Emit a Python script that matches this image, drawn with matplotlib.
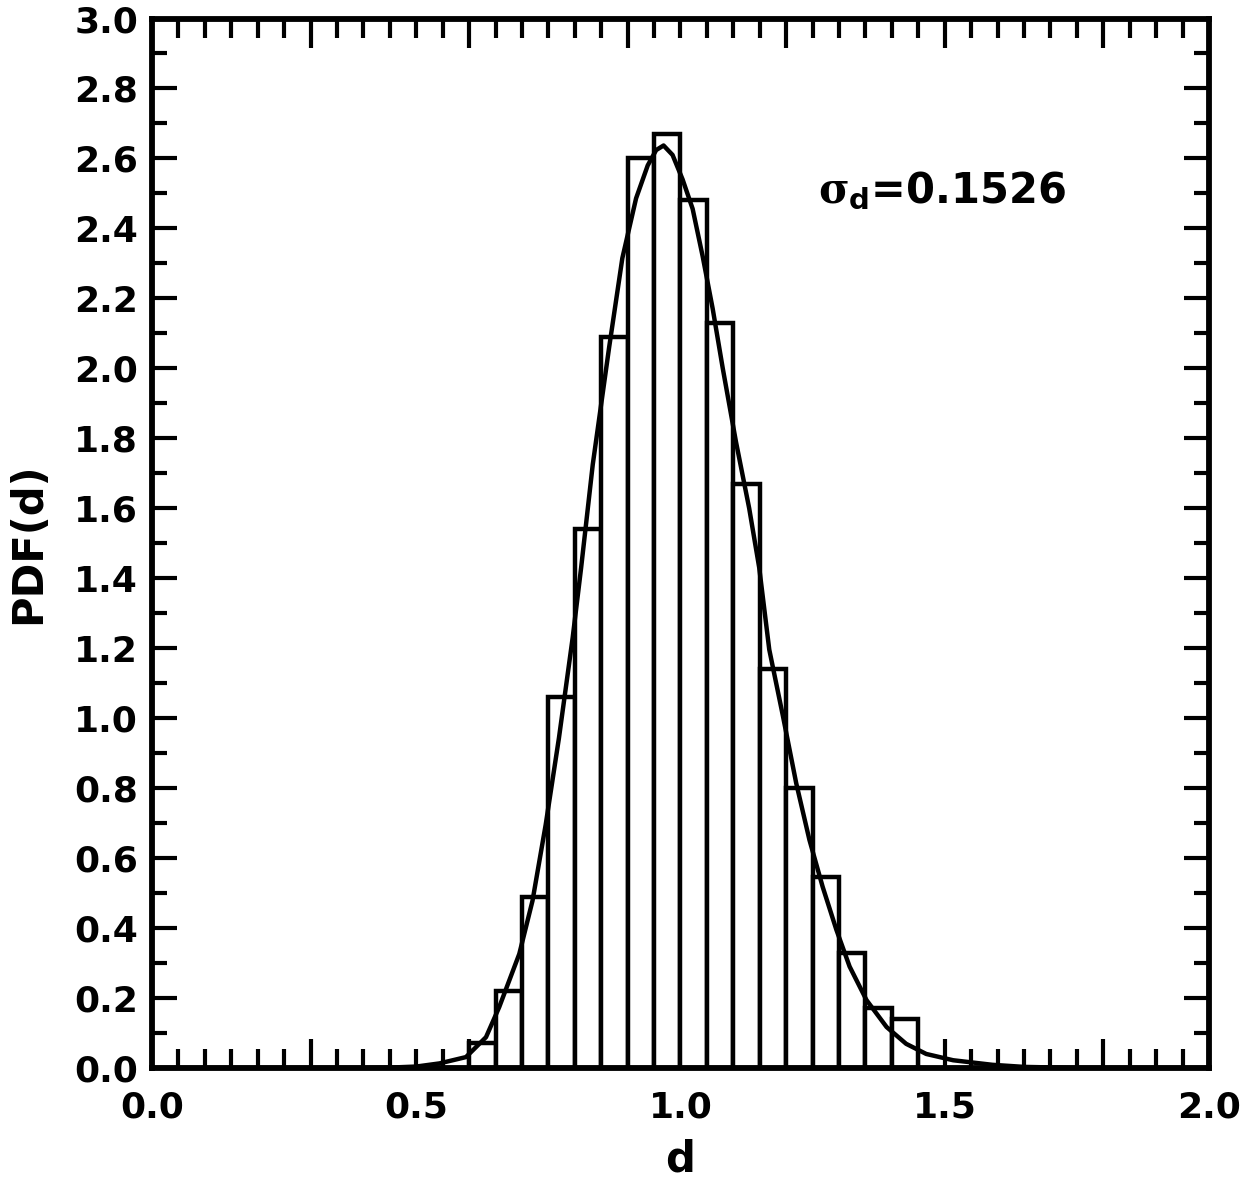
import numpy as np
import matplotlib
matplotlib.use("Agg")
from matplotlib import pyplot as plt
from matplotlib.ticker import MultipleLocator

plt.rcParams['font.family'] = ['DejaVu Sans']
plt.rcParams['font.weight'] = 'bold'
plt.rcParams['mathtext.fontset'] = 'custom'
plt.rcParams['mathtext.rm'] = 'DejaVu Sans:bold'
plt.rcParams['mathtext.it'] = 'DejaVu Serif'
plt.rcParams['mathtext.bf'] = 'DejaVu Sans:bold'

# histogram: left bin edges (width 0.05) and PDF heights
bin_left = [0.60, 0.65, 0.70, 0.75, 0.80, 0.85, 0.90, 0.95, 1.00,
            1.05, 1.10, 1.15, 1.20, 1.25, 1.30, 1.35, 1.40]
bin_pdf = [0.07, 0.22, 0.49, 1.06, 1.54, 2.09, 2.60, 2.67, 2.48,
           2.13, 1.67, 1.14, 0.80, 0.545, 0.33, 0.17, 0.14]
bin_width = 0.05

# fitted curve, points
curve_d = [0.00, 0.40, 0.45, 0.50, 0.544, 0.594, 0.632, 0.657, 0.695, 0.720,
           0.745, 0.770, 0.796, 0.812, 0.834, 0.865, 0.890, 0.916, 0.938,
           0.954, 0.968, 0.985, 1.004, 1.023, 1.042, 1.061, 1.080, 1.105,
           1.130, 1.149, 1.168, 1.194, 1.219, 1.244, 1.269, 1.295, 1.320,
           1.352, 1.390, 1.427, 1.465, 1.516, 1.59, 1.65, 1.75, 2.00]
curve_pdf = [0.0, 0.0, 0.001, 0.004, 0.013, 0.031, 0.088, 0.174, 0.326, 0.478,
             0.696, 0.943, 1.23, 1.43, 1.725, 2.06, 2.315, 2.486, 2.58,
             2.624, 2.637, 2.61, 2.54, 2.456, 2.32, 2.17, 2.00, 1.79,
             1.60, 1.43, 1.196, 1.005, 0.814, 0.652, 0.518, 0.395, 0.29,
             0.194, 0.117, 0.069, 0.040, 0.022, 0.009, 0.003, 0.0, 0.0]

sigma_d = 0.1526

fig = plt.figure(figsize=(12.43, 11.87), dpi=100)
ax = fig.add_axes([0.1223, 0.1003, 0.8503, 0.8841])

ax.bar(bin_left, bin_pdf, width=bin_width, align='edge',
       facecolor='white', edgecolor='black', linewidth=3.2, zorder=2)
ax.plot(curve_d, curve_pdf, color='black', linewidth=3.2, zorder=3)

ax.set_xlim(0, 2.0)
ax.set_ylim(0, 3.0)

for s in ax.spines.values():
    s.set_linewidth(4.2)

# x: long ticks every 0.3, short every 0.05, labels every 0.5 via secondary axis
ax.xaxis.set_major_locator(MultipleLocator(0.3))
ax.xaxis.set_minor_locator(MultipleLocator(0.05))
ax.yaxis.set_major_locator(MultipleLocator(0.2))
ax.yaxis.set_minor_locator(MultipleLocator(0.1))
ax.tick_params(axis='x', which='major', direction='in', length=21, width=3.0,
               top=True, bottom=True, labelbottom=False)
ax.tick_params(axis='x', which='minor', direction='in', length=14, width=3.0,
               top=True, bottom=True)
ax.tick_params(axis='y', which='major', direction='in', length=18, width=3.0,
               left=True, right=True, labelsize=26, pad=10)
ax.tick_params(axis='y', which='minor', direction='in', length=11, width=3.0,
               left=True, right=True)
ax.set_yticklabels([f"{v:.1f}" for v in ax.get_yticks()], fontweight='bold')

secx = ax.secondary_xaxis('bottom')
secx.set_xticks([0.0, 0.5, 1.0, 1.5, 2.0])
secx.set_xticklabels(["0.0", "0.5", "1.0", "1.5", "2.0"], fontweight='bold')
secx.tick_params(length=0, labelsize=26, pad=16)
secx.spines['bottom'].set_visible(False)

ax.set_xlabel('d', fontsize=30, fontweight='bold')
ax.xaxis.set_label_coords(0.5, -0.067)
ax.set_ylabel('PDF(d)', fontsize=30, fontweight='bold')
ax.yaxis.set_label_coords(-0.097, 0.5)

ax.text(1.26, 2.51, r'$\sigma_\mathrm{d}$=' + f'{sigma_d:.4f}', fontsize=30,
        fontweight='bold', ha='left', va='center')

fig.savefig('out.png', dpi=100)
